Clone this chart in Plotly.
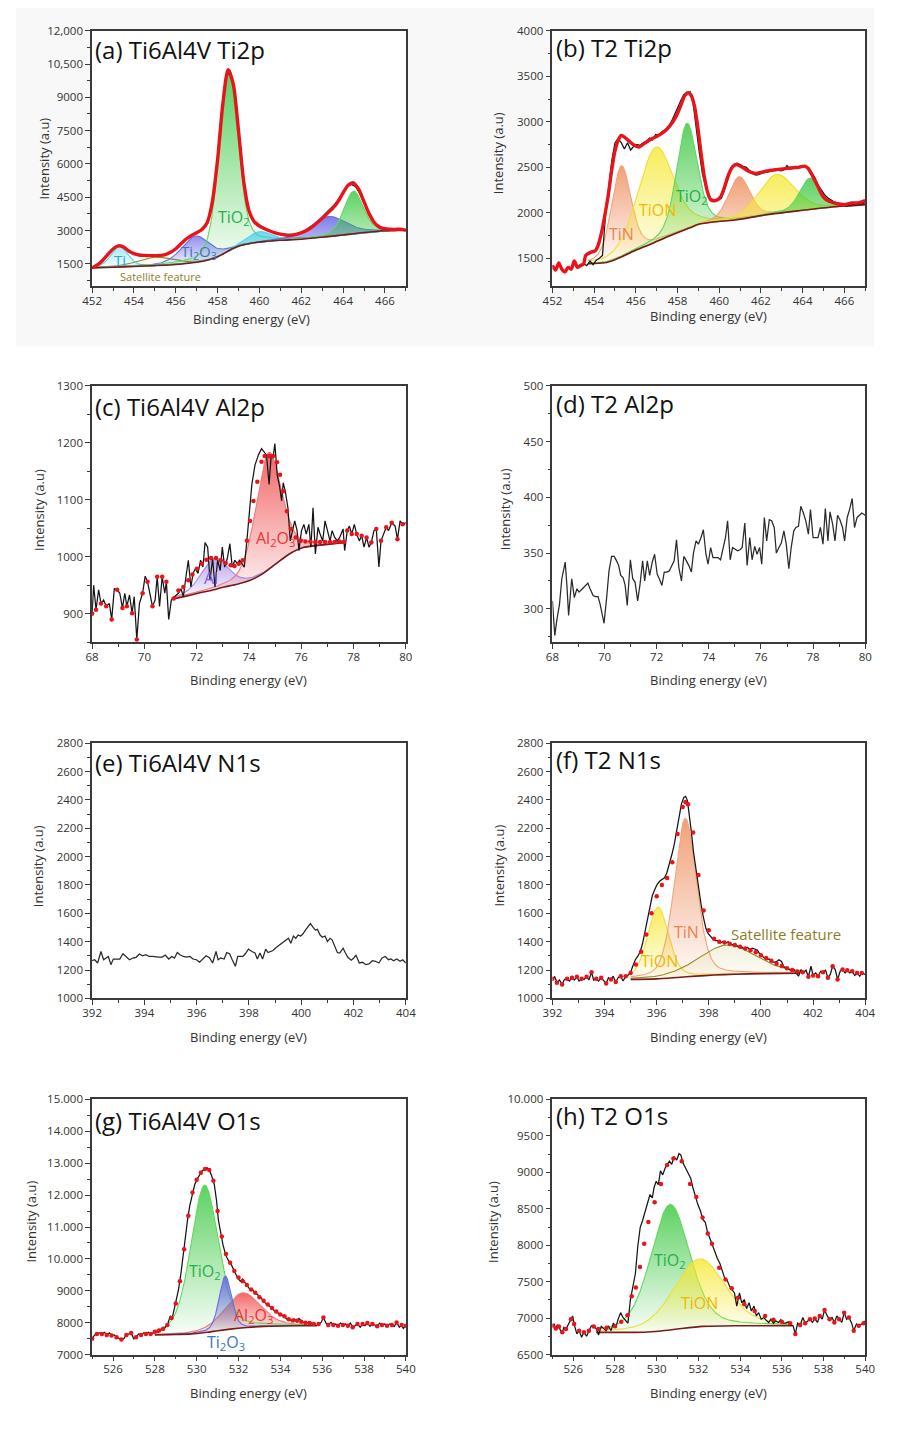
import numpy as np
import plotly.graph_objects as go

# page is 900 x 1438; the html body keeps an 8 px margin around the figure
PAGE_W, PAGE_H = 900, 1438
OFF = 8
W, H = PAGE_W - 2 * OFF, PAGE_H - 2 * OFF

# ---------------------------------------------------------------------------
# (a) Ti6Al4V Ti2p
# ---------------------------------------------------------------------------
A_RAW = [(452.0,1300),(452.2,1420),(452.4,1560),(452.6,1740),(452.8,1960),(453.0,2160),(453.2,2290),(453.4,2310),(453.6,2210),(453.8,2060),(454.0,1960),(454.2,1910),(454.4,1880),(454.6,1870),(454.8,1860),(455.0,1870),(455.2,1880),(455.4,1900),(455.6,1960),(455.8,2060),(456.0,2210),(456.2,2390),(456.4,2560),(456.6,2690),(456.8,2790),(457.0,2880),(457.2,3000),(457.4,3180),(457.6,3620),(457.8,4600),(458.0,6250),(458.2,8300),(458.4,9850),(458.6,10220),(458.8,9300),(459.0,7450),(459.2,5400),(459.4,4150),(459.6,3620),(459.8,3380),(460.0,3240),(460.2,3140),(460.4,3040),(460.6,2950),(460.8,2880),(461.0,2830),(461.2,2790),(461.4,2770),(461.6,2790),(461.8,2850),(462.0,2910),(462.2,2990),(462.4,3110),(462.6,3260),(462.8,3430),(463.0,3600),(463.2,3800),(463.4,3980),(463.6,4180),(463.8,4430),(464.0,4720),(464.2,4980),(464.4,5080),(464.6,4980),(464.8,4660),(465.0,4230),(465.2,3800),(465.4,3480),(465.6,3280),(465.8,3150),(466.0,3100),(466.2,3070),(466.4,3040),(466.6,3090),(466.8,3030),(467.0,2990)]
A_FIT = [(452.0,1320),(452.25,1450),(452.5,1650),(452.75,1920),(453.0,2170),(453.25,2310),(453.5,2260),(453.75,2080),(454.0,1960),(454.25,1900),(454.5,1880),(454.75,1870),(455.0,1870),(455.25,1880),(455.5,1920),(455.75,2020),(456.0,2180),(456.25,2400),(456.5,2620),(456.75,2780),(457.0,2900),(457.25,3050),(457.5,3350),(457.75,4300),(458.0,6200),(458.25,8700),(458.5,10250),(458.75,9600),(459.0,7500),(459.25,5200),(459.5,3900),(459.75,3400),(460.0,3200),(460.25,3080),(460.5,2980),(460.75,2900),(461.0,2840),(461.25,2800),(461.5,2790),(461.75,2830),(462.0,2900),(462.25,3000),(462.5,3150),(462.75,3350),(463.0,3550),(463.25,3780),(463.5,4000),(463.75,4300),(464.0,4700),(464.25,5050),(464.5,5150),(464.75,4850),(465.0,4300),(465.25,3750),(465.5,3350),(465.75,3150),(466.0,3080),(466.25,3060),(466.5,3050),(466.75,3060),(467.0,3020)]
A_BG = [(452.0,1320),(453.0,1345),(454.0,1380),(455.0,1420),(456.0,1470),(456.8,1550),(457.4,1640),(457.9,1770),(458.3,1960),(458.7,2180),(459.1,2330),(459.6,2430),(460.2,2500),(461.0,2560),(462.0,2610),(463.0,2700),(464.0,2800),(465.0,2910),(466.0,2990),(467.0,3020)]
# species, centre (eV), height above background, FWHM (eV)
A_PEAKS = [("Satellite", 455.0, 380, 2.0), ("Ti", 453.3, 930, 0.95), ("Ti2O3", 456.95, 1180, 1.6),
           ("TiO2", 458.52, 8100, 1.05), ("Ti", 460.0, 480, 1.3), ("Ti2O3", 463.3, 900, 2.0),
           ("TiO2", 464.5, 1920, 1.1)]

# ---------------------------------------------------------------------------
# (b) T2 Ti2p
# ---------------------------------------------------------------------------
B_RAW = [(452.00,1420),(452.15,1370),(452.30,1450),(452.45,1380),(452.60,1350),(452.75,1400),(452.90,1380),(453.05,1470),(453.20,1400),(453.35,1420),(453.50,1440),(453.65,1420),(453.80,1470),(453.95,1430),(454.10,1480),(454.25,1500),(454.40,1530),(454.55,1990),(454.70,2300),(454.85,2580),(455.00,2770),(455.15,2813),(455.30,2770),(455.45,2700),(455.60,2770),(455.75,2690),(455.90,2730),(456.05,2750),(456.20,2740),(456.35,2770),(456.50,2780),(456.65,2820),(456.80,2800),(456.95,2860),(457.10,2850),(457.25,2890),(457.40,2910),(457.55,2940),(457.70,3000),(457.85,3070),(458.00,3150),(458.15,3230),(458.30,3300),(458.45,3310),(458.60,3330),(458.75,3200),(458.90,2890),(459.05,2650),(459.20,2420),(459.35,2300),(459.50,2170),(459.65,2140),(459.80,2130),(459.95,2140),(460.10,2160),(460.25,2250),(460.40,2360),(460.55,2470),(460.70,2530),(460.85,2545),(461.00,2530),(461.15,2510),(461.30,2500),(461.45,2470),(461.60,2430),(461.75,2415),(461.90,2420),(462.05,2435),(462.20,2440),(462.35,2450),(462.50,2460),(462.65,2465),(462.80,2470),(462.95,2460),(463.10,2470),(463.25,2520),(463.40,2480),(463.55,2490),(463.70,2500),(463.85,2510),(464.00,2520),(464.15,2510),(464.30,2495),(464.45,2440),(464.60,2380),(464.75,2300),(464.90,2250),(465.05,2200),(465.20,2165),(465.35,2140),(465.50,2120),(465.65,2110),(465.80,2100),(465.95,2085),(466.10,2070),(466.25,2080),(466.40,2095),(466.55,2085),(466.70,2090),(466.85,2100),(467.00,2110)]
B_FIT = [(453.59,1529),(453.82,1565),(454.06,1583),(454.21,1655),(454.37,1800),(454.52,1981),(454.68,2198),(454.83,2450),(454.99,2669),(455.15,2795),(455.30,2849),(455.46,2831),(455.69,2784),(455.93,2741),(456.16,2723),(456.39,2759),(456.70,2806),(457.02,2842),(457.33,2886),(457.64,2958),(457.95,3067),(458.18,3193),(458.34,3284),(458.50,3320),(458.65,3291),(458.81,3175),(458.96,2958),(459.12,2669),(459.27,2415),(459.43,2234),(459.59,2144),(459.82,2133),(460.05,2169),(460.26,2289),(460.44,2415),(460.64,2506),(460.83,2531),(461.07,2506),(461.30,2470),(461.53,2444),(461.77,2433),(462.00,2444),(462.31,2459),(462.62,2470),(462.93,2480),(463.25,2488),(463.56,2495),(463.87,2502),(464.10,2513),(464.26,2488),(464.41,2433),(464.57,2361),(464.73,2289),(464.88,2216),(465.04,2162),(465.27,2126),(465.50,2108),(465.74,2097),(466.05,2090),(466.36,2108),(466.67,2108),(467.00,2133)]
B_BG = [(453.7,1440),(454.5,1450),(455.0,1485),(455.5,1535),(456.0,1590),(456.7,1655),(457.6,1746),(458.6,1836),(459.0,1873),(459.8,1901),(460.75,1920),(462.3,1980),(463.9,2025),(465.4,2064),(466.4,2079),(467.0,2090)]
B_PEAKS = [("TiN", 455.3, 1000, 1.1), ("TiON", 456.95, 1040, 2.0), ("TiO2", 458.45, 1160, 1.15),
           ("TiN", 460.95, 470, 1.2), ("TiON", 462.75, 430, 2.0), ("TiO2", 464.35, 345, 1.15)]

# ---------------------------------------------------------------------------
# (c) Ti6Al4V Al2p
# ---------------------------------------------------------------------------
C_RAW = [(68.00,900),(68.06,950),(68.15,907),(68.25,942),(68.34,918),(68.44,924),(68.54,913),(68.66,918),(68.75,890),(68.85,944),(68.96,942),(69.06,936),(69.16,910),(69.25,936),(69.33,913),(69.43,933),(69.53,901),(69.61,930),(69.71,855),(69.81,918),(69.93,936),(70.03,966),(70.12,956),(70.22,936),(70.31,913),(70.41,924),(70.49,965),(70.58,913),(70.68,965),(70.78,936),(70.84,956),(70.93,890),(71.03,924),(71.15,930),(71.30,936),(71.40,944),(71.49,930),(71.58,962),(71.68,994),(71.78,947),(71.86,971),(71.95,979),(72.05,971),(72.15,994),(72.24,982),(72.32,1025),(72.42,1017),(72.51,959),(72.61,997),(72.70,947),(72.80,994),(72.90,976),(72.98,1017),(73.07,982),(73.17,997),(73.27,1023),(73.36,982),(73.46,994),(73.55,988),(73.64,994),(73.73,988),(73.82,982),(73.92,1028),(74.02,1086),(74.11,1127),(74.23,1161),(74.36,1179),(74.48,1190),(74.58,1183),(74.67,1179),(74.77,1127),(74.85,1179),(74.92,1173),(74.99,1199),(75.08,1144),(75.17,1124),(75.25,1098),(75.31,1130),(75.39,1115),(75.49,1086),(75.58,1028),(75.66,1046),(75.75,1063),(75.84,1046),(75.91,1011),(76.01,1046),(76.10,1057),(76.19,1040),(76.29,1057),(76.37,1017),(76.45,1086),(76.54,1005),(76.64,1052),(76.72,1040),(76.82,1028),(76.91,1063),(77.01,1046),(77.10,1028),(77.18,1046),(77.28,1034),(77.38,1028),(77.47,1034),(77.60,1049),(77.66,1011),(77.76,1046),(77.84,1054),(77.93,1040),(78.03,1057),(78.12,1040),(78.22,1028),(78.31,1037),(78.40,1017),(78.50,1034),(78.59,1017),(78.68,1025),(78.78,1046),(78.87,1049),(78.97,982),(79.05,1028),(79.15,1040),(79.25,1052),(79.34,1046),(79.46,1060),(79.59,1054),(79.68,1031),(79.78,1063),(79.88,1057),(80.00,1060)]
C_FIT = [(71.12,927),(71.30,941),(71.49,947),(71.68,959),(71.84,969),(72.01,979),(72.20,988),(72.37,995),(72.55,998),(72.74,998),(72.92,994),(73.11,989),(73.30,985),(73.45,984),(73.61,988),(73.76,994),(73.92,1028),(74.04,1063),(74.17,1098),(74.32,1132),(74.48,1167),(74.60,1177),(74.77,1177),(74.92,1177),(75.07,1166),(75.19,1144),(75.31,1115),(75.45,1080),(75.60,1049),(75.79,1034),(75.98,1028),(76.16,1027),(76.35,1027),(76.54,1026),(76.72,1026),(76.91,1026),(77.10,1026),(77.28,1026),(77.47,1027),(77.63,1026)]
C_BG = [(71.1,926),(71.6,931),(72.05,936),(72.55,941),(73.05,947),(73.55,952),(74.05,959),(74.55,971),(75.04,988),(75.54,1005),(76.04,1016),(76.79,1021),(77.65,1025)]
C_PEAKS = [("Al", 72.68, 55, 1.2), ("Al2O3", 74.75, 205, 1.15)]

# ---------------------------------------------------------------------------
# (d) T2 Al2p
# ---------------------------------------------------------------------------
D_RAW = [(68.00,307),(68.09,276),(68.17,290),(68.27,304),(68.36,327),(68.49,342),(68.56,319),(68.62,294),(68.74,327),(68.84,310),(68.94,318),(69.02,315),(69.15,318),(69.25,320),(69.36,323),(69.46,317),(69.56,312),(69.65,311),(69.75,311),(69.83,304),(69.98,287),(70.08,310),(70.17,334),(70.27,347),(70.37,347),(70.46,343),(70.54,339),(70.62,330),(70.71,328),(70.79,321),(70.87,303),(70.99,344),(71.08,327),(71.17,324),(71.27,307),(71.36,322),(71.46,343),(71.54,325),(71.64,343),(71.73,330),(71.83,342),(71.92,349),(72.02,331),(72.10,327),(72.20,321),(72.29,333),(72.39,333),(72.48,334),(72.58,339),(72.67,343),(72.76,362),(72.85,337),(72.95,325),(73.04,347),(73.14,343),(73.23,339),(73.33,333),(73.41,350),(73.51,361),(73.60,358),(73.70,364),(73.79,371),(73.89,349),(73.97,340),(74.07,355),(74.16,346),(74.26,346),(74.35,346),(74.45,344),(74.54,355),(74.64,364),(74.72,379),(74.82,344),(74.91,355),(75.01,353),(75.10,352),(75.20,353),(75.28,355),(75.38,377),(75.47,339),(75.57,364),(75.66,344),(75.76,356),(75.85,349),(75.95,355),(76.03,340),(76.13,382),(76.22,361),(76.32,380),(76.41,379),(76.51,373),(76.59,350),(76.69,355),(76.78,359),(76.88,370),(76.97,358),(77.07,336),(77.16,355),(77.26,370),(77.34,373),(77.44,374),(77.53,392),(77.63,386),(77.72,379),(77.82,367),(77.90,389),(78.00,364),(78.09,364),(78.19,364),(78.28,373),(78.38,358),(78.47,390),(78.57,361),(78.65,387),(78.75,376),(78.84,361),(78.94,384),(79.03,380),(79.13,373),(79.21,361),(79.31,382),(79.40,389),(79.50,399),(79.59,373),(79.69,382),(79.78,384),(79.87,386),(80.00,384)]

# ---------------------------------------------------------------------------
# (e) Ti6Al4V N1s
# ---------------------------------------------------------------------------
E_RAW = [(392.00,1266),(392.10,1273),(392.21,1250),(392.34,1331),(392.44,1273),(392.54,1285),(392.62,1296),(392.72,1238),(392.81,1278),(392.93,1278),(393.06,1278),(393.18,1315),(393.31,1296),(393.43,1273),(393.56,1285),(393.68,1290),(393.81,1313),(393.93,1301),(394.06,1308),(394.18,1296),(394.31,1296),(394.43,1292),(394.55,1292),(394.68,1292),(394.80,1306),(394.93,1278),(395.05,1296),(395.15,1285),(395.26,1324),(395.36,1308),(395.49,1296),(395.61,1292),(395.74,1296),(395.86,1278),(395.99,1273),(396.11,1255),(396.24,1278),(396.36,1301),(396.49,1287),(396.61,1250),(396.74,1331),(396.82,1273),(396.92,1285),(397.05,1278),(397.15,1324),(397.26,1315),(397.36,1273),(397.48,1227),(397.57,1296),(397.67,1296),(397.77,1296),(397.86,1315),(397.98,1348),(398.11,1331),(398.23,1320),(398.32,1278),(398.42,1320),(398.52,1278),(398.64,1348),(398.73,1324),(398.83,1331),(398.92,1338),(399.04,1359),(399.17,1378),(399.29,1394),(399.41,1413),(399.51,1424),(399.60,1389),(399.70,1440),(399.79,1424),(399.88,1447),(399.98,1440),(400.06,1454),(400.16,1482),(400.25,1505),(400.35,1528),(400.44,1505),(400.54,1482),(400.62,1487),(400.72,1447),(400.81,1431),(400.91,1440),(401.00,1401),(401.10,1424),(401.18,1413),(401.28,1366),(401.38,1324),(401.47,1320),(401.60,1354),(401.69,1320),(401.78,1290),(401.91,1269),(402.01,1285),(402.09,1306),(402.22,1250),(402.34,1255),(402.47,1238),(402.59,1243),(402.72,1266),(402.84,1262),(402.97,1250),(403.09,1285),(403.21,1296),(403.34,1273),(403.43,1278),(403.53,1266),(403.65,1278),(403.78,1262),(403.88,1273),(404.00,1250)]

# ---------------------------------------------------------------------------
# (f) T2 N1s
# ---------------------------------------------------------------------------
F_RAW = [(392.00,1139),(392.09,1153),(392.17,1111),(392.27,1130),(392.37,1099),(392.46,1134),(392.56,1139),(392.65,1123),(392.75,1146),(392.84,1130),(392.94,1153),(393.02,1123),(393.12,1139),(393.21,1134),(393.31,1153),(393.40,1130),(393.50,1185),(393.58,1130),(393.68,1139),(393.77,1123),(393.87,1146),(393.96,1130),(394.06,1106),(394.15,1146),(394.25,1134),(394.33,1157),(394.43,1116),(394.52,1146),(394.62,1157),(394.71,1123),(394.81,1157),(394.89,1162),(394.99,1180),(395.08,1227),(395.18,1273),(395.27,1296),(395.37,1331),(395.46,1389),(395.56,1481),(395.64,1562),(395.74,1655),(395.83,1724),(395.93,1770),(396.02,1805),(396.12,1828),(396.20,1840),(396.30,1851),(396.39,1886),(396.49,1944),(396.58,2013),(396.67,2083),(396.76,2175),(396.86,2291),(396.95,2372),(397.04,2418),(397.11,2425),(397.18,2395),(397.24,2314),(397.33,2175),(397.41,2036),(397.51,1898),(397.60,1782),(397.70,1666),(397.79,1574),(397.89,1493),(397.97,1458),(398.07,1435),(398.17,1416),(398.26,1407),(398.36,1407),(398.45,1393),(398.55,1400),(398.64,1389),(398.74,1400),(398.82,1389),(398.92,1377),(399.01,1389),(399.11,1366),(399.20,1370),(399.30,1354),(399.38,1347),(399.48,1361),(399.57,1347),(399.67,1354),(399.76,1347),(399.86,1342),(399.95,1315),(400.05,1296),(400.13,1285),(400.23,1273),(400.32,1278),(400.42,1261),(400.51,1255),(400.61,1261),(400.69,1273),(400.79,1261),(400.88,1222),(400.98,1215),(401.07,1208),(401.17,1192),(401.26,1204),(401.36,1176),(401.44,1157),(401.54,1204),(401.63,1180),(401.73,1199),(401.82,1153),(401.92,1227),(402.00,1162),(402.10,1180),(402.19,1157),(402.29,1192),(402.38,1185),(402.48,1199),(402.57,1146),(402.66,1169),(402.75,1227),(402.85,1204),(402.94,1134),(403.04,1192),(403.13,1204),(403.23,1180),(403.31,1199),(403.41,1180),(403.50,1192),(403.60,1162),(403.69,1180),(403.79,1157),(403.87,1180),(404.00,1169)]
F_FIT = [(395.0,1180),(395.2,1240),(395.4,1330),(395.6,1450),(395.8,1600),(396.0,1720),(396.2,1800),(396.4,1850),(396.6,1960),(396.8,2160),(397.0,2350),(397.1,2385),(397.2,2370),(397.4,2170),(397.6,1870),(397.8,1620),(398.0,1480),(398.2,1420),(398.4,1400),(398.6,1395),(398.8,1385),(399.0,1375),(399.2,1365),(399.4,1352),(399.6,1340),(399.8,1325),(400.0,1305),(400.2,1285),(400.4,1265),(400.6,1245),(400.8,1228),(401.0,1213),(401.2,1200),(401.4,1190),(401.6,1185)]
F_BG = [(395.0,1134),(396.0,1138),(396.8,1148),(397.5,1157),(398.2,1165),(399.0,1171),(400.0,1175),(401.5,1178)]
F_PEAKS = [("TiON", 396.05, 506, 0.95), ("TiN", 397.1, 1118, 1.0), ("Satellite", 398.7, 208, 2.6)]

# ---------------------------------------------------------------------------
# (g) Ti6Al4V O1s
# ---------------------------------------------------------------------------
G_RAW = [(525.00,7495),(525.12,7619),(525.23,7649),(525.36,7680),(525.47,7649),(525.59,7701),(525.70,7619),(525.83,7680),(525.93,7598),(526.06,7619),(526.17,7546),(526.29,7515),(526.40,7474),(526.53,7515),(526.64,7619),(526.76,7649),(526.87,7680),(526.99,7495),(527.10,7546),(527.23,7649),(527.34,7619),(527.46,7680),(527.57,7649),(527.69,7701),(527.80,7649),(527.93,7680),(528.04,7722),(528.16,7701),(528.27,7753),(528.40,7804),(528.50,7856),(528.63,7990),(528.74,8216),(528.82,8113),(528.89,8320),(529.00,8629),(529.13,9041),(529.25,9557),(529.36,10175),(529.47,10794),(529.56,11206),(529.67,11670),(529.80,12082),(529.91,12340),(530.02,12495),(530.14,12629),(530.25,12753),(530.37,12804),(530.50,12856),(530.61,12773),(530.72,12598),(530.84,12340),(530.95,11825),(531.04,11206),(531.15,10794),(531.26,10433),(531.39,10124),(531.50,9969),(531.62,9866),(531.73,9711),(531.85,9557),(531.96,9402),(532.09,9299),(532.20,9371),(532.32,9247),(532.43,9165),(532.55,9041),(532.68,9021),(532.79,8938),(532.91,8887),(533.02,8784),(533.15,8732),(533.26,8629),(533.38,8577),(533.49,8526),(533.61,8443),(533.72,8371),(533.85,8320),(533.96,8268),(534.08,8216),(534.19,8196),(534.31,8113),(534.42,8093),(534.55,8062),(534.66,8113),(534.78,8062),(534.89,8134),(535.02,8031),(535.12,8010),(535.25,7990),(535.36,8010),(535.48,7990),(535.59,7928),(535.72,7907),(535.83,7959),(535.95,8010),(536.06,8165),(536.18,7990),(536.29,7928),(536.42,8010),(536.53,7928),(536.65,7959),(536.76,7907),(536.88,7990),(536.99,7928),(537.12,7959),(537.23,7907),(537.35,7990),(537.46,7856),(537.59,7928),(537.69,7959),(537.82,7856),(537.93,7959),(538.05,7907),(538.16,7990),(538.29,7887),(538.40,7959),(538.52,7928),(538.63,7887),(538.75,7990),(538.86,7928),(538.99,7959),(539.10,7907),(539.22,7959),(539.33,7928),(539.45,7887),(539.56,8010),(539.69,7856),(539.80,7928),(539.88,7825),(540.00,7907)]
G_FIT = [(528.0,7720),(528.2,7760),(528.4,7810),(528.6,7930),(528.8,8150),(529.0,8600),(529.2,9300),(529.4,10300),(529.6,11350),(529.8,12080),(530.0,12480),(530.2,12700),(530.4,12820),(530.6,12790),(530.8,12450),(531.0,11500),(531.2,10700),(531.4,10150),(531.6,9880),(531.8,9620),(532.0,9420),(532.2,9300),(532.4,9180),(532.6,9040),(532.8,8940),(533.0,8800),(533.2,8690),(533.4,8570),(533.6,8460),(533.8,8350),(534.0,8260),(534.2,8200),(534.4,8110),(534.6,8070),(534.8,8060),(535.0,8030),(535.2,8000),(535.4,7990),(535.6,7960)]
G_BG = [(528.0,7620),(529.0,7630),(529.75,7650),(530.5,7700),(531.0,7750),(531.6,7800),(532.4,7850),(533.2,7885),(534.7,7905),(535.7,7910)]
G_PEAKS = [("Al2O3", 532.2, 1100, 2.0), ("TiO2", 530.38, 4620, 1.55), ("Ti2O3", 531.37, 1680, 0.7)]

# ---------------------------------------------------------------------------
# (h) T2 O1s
# ---------------------------------------------------------------------------
H_RAW = [(525.00,6896),(525.08,6919),(525.16,6860),(525.23,6905),(525.31,6887),(525.39,6829),(525.47,6806),(525.55,6874),(525.65,6851),(525.78,6932),(525.89,6986),(525.97,7031),(526.04,6919),(526.17,6784),(526.28,6829),(526.40,6739),(526.51,6806),(526.64,6752),(526.75,6829),(526.87,6896),(526.98,6887),(527.11,6851),(527.21,6770),(527.34,6887),(527.45,6860),(527.57,6829),(527.68,6896),(527.81,6829),(527.92,6932),(528.04,6874),(528.15,6986),(528.27,7076),(528.38,7009),(528.51,6964),(528.62,6932),(528.74,7256),(528.85,7436),(528.98,7616),(529.09,7976),(529.21,8246),(529.32,8336),(529.43,8448),(529.55,8583),(529.68,8695),(529.79,8650),(529.87,8785),(529.97,8875),(530.08,8830),(530.18,9019),(530.29,8965),(530.40,9055),(530.52,9123),(530.61,9154),(530.72,9109),(530.83,9213),(530.96,9168),(531.07,9258),(531.16,9235),(531.27,9123),(531.39,9055),(531.50,9001),(531.63,8920),(531.74,8785),(531.86,8650),(531.97,8561),(532.10,8470),(532.20,8358),(532.33,8313),(532.44,8178),(532.56,8088),(532.67,7998),(532.80,7886),(532.91,7818),(533.03,7751),(533.14,7661),(533.26,7548),(533.37,7526),(533.50,7436),(533.61,7391),(533.73,7346),(533.84,7166),(533.97,7346),(534.08,7211),(534.20,7256),(534.31,7130),(534.43,7211),(534.54,7098),(534.67,7166),(534.78,7031),(534.89,7076),(535.01,6986),(535.14,7009),(535.24,6977),(535.37,6941),(535.48,6986),(535.60,6932),(535.71,6964),(535.84,6941),(535.95,6977),(536.07,6932),(536.18,6932),(536.31,6950),(536.41,6905),(536.54,6896),(536.65,6784),(536.76,6932),(536.88,6905),(537.01,7009),(537.12,6932),(537.24,6964),(537.35,6986),(537.47,6941),(537.58,6995),(537.71,6941),(537.82,7031),(537.94,6986),(538.05,7112),(538.18,7031),(538.29,6986),(538.41,7009),(538.52,6941),(538.64,7031),(538.75,6986),(538.88,6941),(538.99,7076),(539.11,6986),(539.22,7009),(539.35,6932),(539.45,6829),(539.58,6919),(539.69,6896),(539.81,6919),(539.92,6932),(540.00,6964)]
H_FIT = [(527.2,6850),(527.6,6870),(528.0,6890),(528.3,6950),(528.6,7040),(528.8,7300),(529.0,7420),(529.2,7700),(529.4,8020),(529.6,8320),(529.9,8590),(530.2,8840),(530.5,9100),(530.8,9190),(531.2,9150),(531.6,8840),(531.9,8660),(532.2,8380),(532.45,8160),(532.65,8020),(533.0,7690),(533.3,7530),(533.6,7410),(533.9,7280),(534.2,7190),(534.7,7100),(535.2,7030),(535.6,6980),(536.0,6950),(536.4,6930)]
H_BG = [(527.1,6806),(529.4,6808),(530.2,6825),(531.0,6851),(532.2,6887),(533.8,6896),(536.5,6898)]
H_PEAKS = [("TiO2", 530.64, 1720, 2.2), ("TiON", 532.05, 930, 2.9)]

# ---------------------------------------------------------------------------
# axis ticks
# ---------------------------------------------------------------------------
A_YTICKS = [1500, 3000, 4500, 6000, 7500, 9000, 10500, 12000]
A_YTEXT = ["1500", "3000", "4500", "6000", "7500", "9000", "10,500", "12,000"]
B_YTICKS = [1500, 2000, 2500, 3000, 3500, 4000]
C_YTICKS = [900, 1000, 1100, 1200, 1300]
D_YTICKS = [300, 350, 400, 450, 500]
EF_YTICKS = [1000, 1200, 1400, 1600, 1800, 2000, 2200, 2400, 2600, 2800]
G_YTICKS = [7000, 8000, 9000, 10000, 11000, 12000, 13000, 14000, 15000]
G_YTEXT = ["7000", "8000", "9000", "10.000", "11.000", "12.000", "13.000", "14.000", "15.000"]
H_YTICKS = [6500, 7000, 7500, 8000, 8500, 9000, 9500, 10000]
H_YTEXT = ["6500", "7000", "7500", "8000", "8500", "9000", "9500", "10.000"]

# ---------------------------------------------------------------------------
# styling
# ---------------------------------------------------------------------------
FILL_RGB = {
    "Ti": (60, 205, 232), "Ti2O3": (92, 92, 228), "TiO2": (52, 198, 58),
    "TiN": (238, 136, 84), "TiON": (246, 232, 48), "Al": (138, 104, 224),
    "Al2O3": (238, 66, 66), "Satellite": (190, 180, 70),
}
LINE_COL = {
    "Ti": "#55d4ec", "Ti2O3": "#6a6ae6", "TiO2": "#5fd860", "TiN": "#f0a47a",
    "TiON": "#ecdf3a", "Al": "#a58ae8", "Al2O3": "#f07a7a", "Satellite": "#8f8c22",
}
TOP_ALPHA = {"Satellite": 0.18}
LABEL_COL = {
    "Ti": "#2fa8e0", "Ti2O3": "#3a76c4", "TiO2": "#25b14a", "TiN": "#ec8450",
    "TiON": "#f2b705", "Al": "#8a55d4", "Al2O3": "#ee3333", "Satellite": "#8c7d26",
}
LABEL_TXT = {
    "Ti": "Ti", "Ti2O3": "Ti<sub>2</sub>O<sub>3</sub>", "TiO2": "TiO<sub>2</sub>",
    "TiN": "TiN", "TiON": "TiON", "Al": "Al", "Al2O3": "Al<sub>2</sub>O<sub>3</sub>",
    "Satellite": "Satellite feature",
}
RAW_COL = "#151515"
FIT_COL = "#e8141c"
BG_COL = "#7a1b1b"
AXIS_COL = "#3a3a3a"
FONT = "Open Sans, Noto Sans, sans-serif"

# plot-area boxes in page pixels
COL_X = [(92, 413), (563, 883)]
ROW_Y = [(31, 289), (390, 649), (751, 1009), (1111, 1369)]


def px(x):
    """page x pixel -> paper fraction"""
    return (x - OFF) / W


def py(y):
    """page y pixel -> paper fraction"""
    return 1 - (y - OFF) / H


PANELS = [
    dict(title="(a) Ti6Al4V Ti2p", raw=A_RAW, fit=A_FIT, bg=A_BG, peaks=A_PEAKS, fit_style="line",
         xr=[452, 467], xt0=452, yr=[500, 12000], yt=A_YTICKS, ytx=A_YTEXT, ymin=750,
         labels=[("Ti", 453.35, 1685, 15), ("Ti2O3", 457.1, 2026, 15), ("TiO2", 458.77, 3580, 16),
                 ("Satellite", 455.27, 944, 11)],
         t_xy=(93, 50), yt_xy=(43, 160), xt_xy=(255, 322)),
    dict(title="(b) T2 Ti2p", raw=B_RAW, fit=B_FIT, bg=B_BG, peaks=B_PEAKS, fit_style="line",
         xr=[452, 467], xt0=452, yr=[1195, 4000], yt=B_YTICKS, ytx=None, ymin=250,
         labels=[("TiN", 455.3, 1771, 16), ("TiON", 457.02, 2025, 16), ("TiO2", 458.7, 2180, 16)],
         t_xy=(565, 48), yt_xy=(508, 155), xt_xy=(723, 319)),
    dict(title="(c) Ti6Al4V Al2p", raw=C_RAW, fit=C_FIT, bg=C_BG, peaks=C_PEAKS, fit_style="dots",
         xr=[68, 80], xt0=68, yr=[850, 1300], yt=C_YTICKS, ytx=None, ymin=50,
         labels=[("Al", 72.55, 962, 16), ("Al2O3", 75.02, 1032, 16)],
         t_xy=(93, 411), yt_xy=(37, 515), xt_xy=(252, 687)),
    dict(title="(d) T2 Al2p", raw=D_RAW, fit=None, bg=None, peaks=[], fit_style=None,
         xr=[68, 80], xt0=68, yr=[270, 500], yt=D_YTICKS, ytx=None, ymin=25,
         labels=[], t_xy=(565, 408), yt_xy=(514, 515), xt_xy=(723, 687)),
    dict(title="(e) Ti6Al4V N1s", raw=E_RAW, fit=None, bg=None, peaks=[], fit_style=None,
         xr=[392, 404], xt0=392, yr=[1000, 2800], yt=EF_YTICKS, ytx=None, ymin=100,
         labels=[], t_xy=(93, 771), yt_xy=(37, 875), xt_xy=(252, 1048)),
    dict(title="(f) T2 N1s", raw=F_RAW, fit=F_FIT, bg=F_BG, peaks=F_PEAKS, fit_style="dots",
         xr=[392, 404], xt0=392, yr=[1000, 2800], yt=EF_YTICKS, ytx=None, ymin=100,
         labels=[("TiN", 397.14, 1470, 16), ("TiON", 396.12, 1261, 16), ("Satellite", 400.98, 1453, 15)],
         t_xy=(565, 768), yt_xy=(508, 875), xt_xy=(723, 1048)),
    dict(title="(g) Ti6Al4V O1s", raw=G_RAW, fit=G_FIT, bg=G_BG, peaks=G_PEAKS, fit_style="dots",
         xr=[525, 540], xt0=526, yr=[7000, 15000], yt=G_YTICKS, ytx=G_YTEXT, ymin=500,
         labels=[("TiO2", 530.4, 9608, 16), ("Al2O3", 532.71, 8216, 16), ("Ti2O3", 531.39, 7371, 16)],
         t_xy=(93, 1132), yt_xy=(30, 1235), xt_xy=(252, 1408)),
    dict(title="(h) T2 O1s", raw=H_RAW, fit=H_FIT, bg=H_BG, peaks=H_PEAKS, fit_style="dots",
         xr=[525, 540], xt0=526, yr=[6500, 10000], yt=H_YTICKS, ytx=H_YTEXT, ymin=250,
         labels=[("TiO2", 530.64, 7796, 16), ("TiON", 532.05, 7202, 16)],
         t_xy=(565, 1127), yt_xy=(502, 1235), xt_xy=(723, 1408)),
]


def pseudo_voigt(x, centre, height, fwhm, eta=0.3):
    """Gaussian-Lorentzian sum line shape used for the XPS component fits."""
    d2 = ((x - centre) / fwhm) ** 2
    return height * ((1 - eta) * np.exp(-4 * np.log(2) * d2) + eta / (1 + 4 * d2))


def rgba(rgb, a):
    return f"rgba({rgb[0]},{rgb[1]},{rgb[2]},{a})"


fig = go.Figure()
annotations = []
shapes = [
    # light grey backdrop behind the top row, plot areas kept white
    dict(type="rect", xref="paper", yref="paper", x0=px(14), x1=1, y0=py(350), y1=1,
         fillcolor="#f8f8f8", line=dict(width=0), layer="below"),
]
layout_axes = {}

for i, p in enumerate(PANELS):
    n = i + 1
    xref = "x" if n == 1 else f"x{n}"
    yref = "y" if n == 1 else f"y{n}"
    c0, c1 = COL_X[i % 2]
    r0, r1 = ROW_Y[i // 2]
    if i < 2:
        shapes.append(dict(type="rect", xref="paper", yref="paper", x0=px(c0), x1=px(c1),
                           y0=py(r1), y1=py(r0), fillcolor="white",
                           line=dict(width=0), layer="below"))

    raw_x = np.array([v[0] for v in p["raw"]])
    raw_y = np.array([v[1] for v in p["raw"]])

    if p["bg"] is not None:
        bg_x = np.array([v[0] for v in p["bg"]])
        bg_y = np.array([v[1] for v in p["bg"]])
        grid = np.linspace(bg_x[0], bg_x[-1], 400)
        base = np.interp(grid, bg_x, bg_y)
        # fitted components sitting on the Shirley background
        for species, centre, height, fwhm in p["peaks"]:
            comp = base + pseudo_voigt(grid, centre, height, fwhm)
            rgb = FILL_RGB[species]
            fig.add_trace(go.Scatter(
                x=np.concatenate([grid, grid[::-1]]), y=np.concatenate([comp, base[::-1]]),
                xaxis=xref, yaxis=yref, mode="lines", fill="toself", line=dict(width=0),
                fillgradient=dict(type="vertical",
                                  colorscale=[[0, rgba(rgb, 0.03)],
                                              [1, rgba(rgb, TOP_ALPHA.get(species, 0.8))]]),
                hoverinfo="skip", showlegend=False))
            fig.add_trace(go.Scatter(
                x=grid, y=comp, xaxis=xref, yaxis=yref, mode="lines",
                line=dict(color=LINE_COL[species], width=1.1), hoverinfo="skip", showlegend=False))
        fig.add_trace(go.Scatter(
            x=bg_x, y=bg_y, xaxis=xref, yaxis=yref, mode="lines",
            line=dict(color=BG_COL, width=1.6, shape="spline", smoothing=0.6),
            hoverinfo="skip", showlegend=False))

    # measured spectrum
    fig.add_trace(go.Scatter(
        x=raw_x, y=raw_y, xaxis=xref, yaxis=yref, mode="lines",
        line=dict(color=RAW_COL if p["fit"] is not None else "#2a2a2a", width=1.25),
        hoverinfo="skip", showlegend=False))

    # fit envelope (outside the fitted window it follows the measured points)
    if p["fit"] is not None:
        fx = np.array([v[0] for v in p["fit"]])
        fy = np.array([v[1] for v in p["fit"]])
        lo, hi = fx[0], fx[-1]
        if p["fit_style"] == "line":
            left = raw_x < lo - 0.02
            right = raw_x > hi + 0.02
            ex = np.concatenate([raw_x[left], fx, raw_x[right]])
            ey = np.concatenate([raw_y[left], fy, raw_y[right]])
            fig.add_trace(go.Scatter(
                x=ex, y=ey, xaxis=xref, yaxis=yref, mode="lines",
                line=dict(color=FIT_COL, width=3.4, shape="spline", smoothing=0.7),
                hoverinfo="skip", showlegend=False))
        else:
            idx = np.arange(len(raw_x))
            outside = ((raw_x < lo - 0.1) | (raw_x > hi + 0.1)) & (idx % 2 == 0)
            ex = np.concatenate([raw_x[outside & (raw_x < lo)], fx, raw_x[outside & (raw_x > hi)]])
            ey = np.concatenate([raw_y[outside & (raw_x < lo)], fy, raw_y[outside & (raw_x > hi)]])
            fig.add_trace(go.Scatter(
                x=ex, y=ey, xaxis=xref, yaxis=yref, mode="markers",
                marker=dict(color=FIT_COL, size=4.5), hoverinfo="skip", showlegend=False))

    tickfont = dict(family=FONT, size=11.5, color="#333")
    layout_axes["xaxis" if n == 1 else f"xaxis{n}"] = dict(
        domain=[px(c0), px(c1)], anchor=yref, range=p["xr"],
        tickmode="linear", tick0=p["xt0"], dtick=2,
        ticks="outside", ticklen=5, tickwidth=1.2, tickcolor=AXIS_COL,
        minor=dict(ticks="outside", ticklen=3, tickwidth=1, tickcolor=AXIS_COL,
                   tick0=p["xr"][0], dtick=1),
        showline=True, linecolor=AXIS_COL, linewidth=1.6, mirror=True,
        showgrid=False, zeroline=False, tickfont=tickfont, ticklabelstandoff=-2)
    layout_axes["yaxis" if n == 1 else f"yaxis{n}"] = dict(
        domain=[py(r1), py(r0)], anchor=xref, range=p["yr"],
        tickmode="array", tickvals=p["yt"],
        ticktext=p["ytx"] if p["ytx"] is not None else [str(v) for v in p["yt"]],
        ticks="outside", ticklen=5, tickwidth=1.2, tickcolor=AXIS_COL,
        minor=dict(ticks="outside", ticklen=3, tickwidth=1, tickcolor=AXIS_COL,
                   tick0=p["yt"][0], dtick=p["ymin"]),
        showline=True, linecolor=AXIS_COL, linewidth=1.6, mirror=True,
        showgrid=False, zeroline=False, tickfont=tickfont)

    # component labels
    for species, lx, ly, size in p["labels"]:
        annotations.append(dict(x=lx, y=ly, xref=xref, yref=yref, text=LABEL_TXT[species],
                                showarrow=False, font=dict(family=FONT, size=size, color=LABEL_COL[species]),
                                xanchor="center", yanchor="middle"))

    # panel title and axis titles
    tx, ty = p["t_xy"]
    annotations.append(dict(x=px(tx), y=py(ty), xref="paper", yref="paper", text=p["title"],
                            showarrow=False, xanchor="left", yanchor="middle",
                            font=dict(family=FONT, size=24, color="#111")))
    yx, yy = p["yt_xy"]
    annotations.append(dict(x=px(yx), y=py(yy), xref="paper", yref="paper", text="Intensity (a.u)",
                            showarrow=False, textangle=-90, xanchor="center", yanchor="middle",
                            font=dict(family=FONT, size=13, color="#333")))
    xx, xy = p["xt_xy"]
    annotations.append(dict(x=px(xx), y=py(xy), xref="paper", yref="paper", text="Binding energy (eV)",
                            showarrow=False, xanchor="center", yanchor="middle",
                            font=dict(family=FONT, size=13, color="#333")))

fig.update_layout(
    width=W, height=H, margin=dict(l=0, r=0, t=0, b=0),
    paper_bgcolor="white", plot_bgcolor="white", showlegend=False,
    font=dict(family=FONT, color="#333"),
    annotations=annotations, shapes=shapes, **layout_axes)

fig.write_html("out.html")
